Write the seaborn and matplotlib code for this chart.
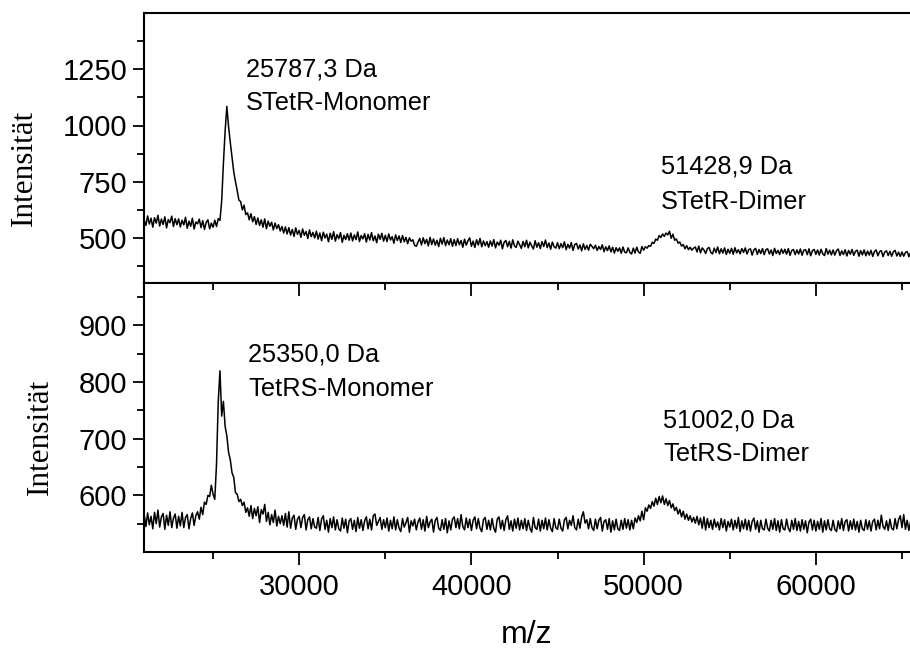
import numpy as np
import pandas as pd
import matplotlib
matplotlib.use("Agg")
import matplotlib.pyplot as plt
import seaborn as sns
from matplotlib.ticker import FixedLocator

# ---------------- data ----------------
mz_start = 21000
mz_step = 100

stetr_intensity = [
    580, 556, 598, 562, 588, 548, 590, 566, 601, 553, 584, 560, 594, 545, 582, 568, 597, 551, 586, 559,
    585, 549, 579, 558, 592, 543, 575, 552, 588, 540, 571, 563, 584, 546, 577, 538, 569, 581, 541, 566,
    548, 579, 551, 586, 578, 665, 830, 975, 1085, 995, 925, 860, 795, 750, 712, 668, 662, 625, 646, 604,
    612, 581, 608, 572, 595, 560, 589, 556, 581, 548, 585, 541, 575, 552, 570, 536, 566, 542, 559, 531,
    551, 522, 549, 518, 546, 513, 538, 507, 545, 516, 534, 503, 540, 512, 529, 498, 536, 506, 525, 500,
    530, 495, 522, 488, 526, 500, 517, 483, 521, 494, 528, 486, 515, 497, 524, 481, 512, 493, 519, 490,
    522, 487, 514, 493, 527, 484, 511, 496, 519, 482, 516, 491, 524, 488, 509, 479, 517, 494, 521, 486,
    512, 484, 518, 491, 506, 477, 514, 489, 509, 480, 511, 483, 503, 475, 501, 486, 492, 468, 463, 482,
    498, 469, 501, 475, 494, 465, 503, 471, 496, 468, 490, 462, 499, 473, 502, 466, 491, 470, 497, 463,
    493, 466, 497, 470, 489, 459, 495, 468, 488, 501, 463, 486, 458, 492, 469, 498, 461, 487, 466, 484,
    459, 487, 464, 493, 456, 482, 468, 490, 452, 481, 489, 461, 485, 455, 492, 465, 458, 486, 470, 454,
    485, 461, 490, 456, 481, 465, 451, 488, 459, 479, 453, 484, 462, 491, 457, 478, 450, 482, 461, 455,
    479, 452, 475, 457, 483, 448, 472, 455, 480, 445, 471, 476, 451, 469, 443, 474, 449, 467, 446, 472,
    463, 452, 468, 445, 462, 449, 470, 439, 461, 444, 465, 438, 459, 433, 457, 441, 456, 432, 460, 437,
    434, 456, 436, 429, 455, 433, 459, 438, 432, 462, 446, 461, 455, 466, 463, 481, 476, 495, 490, 511,
    502, 518, 507, 522, 514, 530, 499, 517, 490, 496, 477, 482, 464, 471, 452, 466, 448, 459, 446, 455,
    460, 438, 464, 434, 456, 447, 431, 453, 458, 436, 429, 455, 435, 460, 430, 452, 433, 456, 427, 450,
    432, 454, 428, 457, 434, 448, 430, 453, 436, 456, 429, 448, 452, 424, 447, 454, 427, 449, 431, 453,
    426, 448, 452, 429, 447, 422, 454, 431, 445, 427, 451, 432, 450, 428, 453, 423, 445, 449, 426, 447,
    429, 451, 423, 446, 448, 426, 452, 421, 444, 449, 427, 447, 424, 450, 430, 422, 453, 428, 446, 425,
    447, 424, 444, 451, 422, 443, 426, 448, 420, 445, 428, 449, 423, 441, 446, 419, 444, 425, 447, 421,
    442, 424, 445, 418, 440, 447, 421, 439, 444, 417, 438, 443, 422, 441, 419, 439, 445, 420, 437, 418,
    438, 419, 435, 440, 417, 436,
]

tetrs_intensity = [
    566, 545, 569, 548, 563, 541, 570, 550, 574, 544, 562, 568, 540, 565, 547, 571, 543, 560, 567, 542,
    563, 546, 570, 543, 561, 566, 541, 559, 569, 547, 564, 571, 558, 579, 566, 588, 584, 600, 598, 618,
    602, 593, 655, 765, 820, 740, 766, 722, 705, 676, 663, 640, 632, 605, 602, 589, 593, 582, 588, 570,
    578, 563, 582, 559, 577, 564, 580, 552, 575, 567, 584, 554, 570, 548, 566, 552, 574, 546, 563, 550,
    564, 547, 568, 544, 571, 542, 560, 565, 540, 558, 563, 543, 561, 566, 539, 557, 562, 541, 559, 544,
    542, 561, 538, 558, 564, 540, 556, 535, 559, 543, 562, 539, 557, 541, 537, 560, 542, 558, 534, 555,
    559, 540, 556, 536, 561, 542, 557, 538, 555, 562, 541, 558, 539, 564, 567, 547, 554, 561, 540, 557,
    543, 560, 537, 556, 541, 562, 539, 557, 542, 536, 559, 544, 552, 561, 535, 555, 546, 558, 539, 553,
    560, 540, 557, 537, 563, 543, 553, 558, 535, 556, 561, 542, 538, 557, 540, 559, 534, 555, 539, 558,
    562, 543, 559, 541, 566, 545, 539, 560, 543, 558, 538, 556, 562, 541, 559, 542, 536, 557, 561, 540,
    556, 539, 559, 542, 535, 558, 562, 541, 556, 538, 557, 564, 540, 555, 537, 558, 542, 560, 539, 556,
    541, 559, 538, 556, 542, 535, 561, 543, 540, 558, 537, 556, 541, 560, 539, 557, 542, 536, 559, 543,
    540, 558, 542, 537, 557, 561, 541, 556, 547, 564, 543, 539, 558, 542, 562, 571, 551, 557, 541, 559,
    543, 538, 558, 541, 556, 561, 537, 554, 557, 540, 559, 535, 555, 539, 558, 541, 538, 556, 540, 559,
    542, 557, 539, 556, 541, 560, 552, 564, 555, 572, 557, 578, 572, 583, 577, 589, 581, 595, 584, 598,
    587, 599, 584, 594, 582, 591, 578, 585, 573, 579, 567, 575, 562, 572, 558, 567, 556, 564, 553, 561,
    551, 563, 548, 560, 542, 562, 539, 559, 543, 556, 540, 558, 544, 553, 539, 559, 543, 557, 537, 554,
    544, 558, 539, 556, 542, 561, 536, 555, 541, 558, 539, 556, 537, 554, 560, 540, 555, 535, 556, 541,
    539, 558, 542, 537, 556, 540, 559, 538, 555, 535, 557, 541, 539, 558, 542, 536, 556, 540, 559, 538,
    554, 537, 557, 540, 555, 534, 553, 558, 539, 556, 537, 554, 540, 559, 535, 555, 539, 557, 541, 538,
    556, 540, 536, 555, 541, 559, 538, 554, 557, 537, 555, 540, 558, 539, 554, 535, 556, 541, 538, 557,
    540, 555, 537, 554, 558, 539, 556, 541, 565, 545, 540, 555, 538, 558, 542, 539, 559, 541, 557, 564,
    543, 566, 540, 556, 538, 554,
]

top_labels = [("25787,3 Da", 26912, 1218), ("STetR-Monomer", 26912, 1067),
              ("51428,9 Da", 50990, 786), ("STetR-Dimer", 50990, 630)]
bottom_labels = [("25350,0 Da", 27046, 836), ("TetRS-Monomer", 27046, 776),
                 ("51002,0 Da", 51151, 720), ("TetRS-Dimer", 51151, 660)]

top_yticks = [500, 750, 1000, 1250]
top_yminor = [375, 625, 875, 1125, 1375]
bottom_yticks = [600, 700, 800, 900]
bottom_yminor = [550, 650, 750, 850, 950]
xticks = [30000, 40000, 50000, 60000]
xminor = [25000, 35000, 45000, 55000, 65000]

# ---------------- frames ----------------
df_top = pd.DataFrame({"mz": mz_start + mz_step * np.arange(len(stetr_intensity)),
                       "I": stetr_intensity})
df_bot = pd.DataFrame({"mz": mz_start + mz_step * np.arange(len(tetrs_intensity)),
                       "I": tetrs_intensity})

sns.set_style("white")
plt.rcParams["font.family"] = ["Liberation Sans", "DejaVu Sans"]
for k in ("text.color", "axes.labelcolor", "xtick.color", "ytick.color", "axes.edgecolor"):
    plt.rcParams[k] = "black"

W, H = 910, 650
fig = plt.figure(figsize=(W / 100, H / 100), dpi=100)

def fx(px):
    return px / W

def fy(py):
    return 1 - py / H

ax1 = fig.add_axes([fx(144), fy(283), fx(910) - fx(144), fy(13) - fy(283)])
ax2 = fig.add_axes([fx(144), fy(552), fx(910) - fx(144), fy(283) - fy(552)])

sns.lineplot(data=df_top, x="mz", y="I", ax=ax1, color="black", linewidth=1.1)
sns.lineplot(data=df_bot, x="mz", y="I", ax=ax2, color="black", linewidth=1.1)

xlim = (20990, 65465)
for ax in (ax1, ax2):
    ax.set_xlim(*xlim)
    ax.spines["right"].set_visible(False)
    for s in ("left", "top", "bottom"):
        ax.spines[s].set_linewidth(1.5)
        ax.spines[s].set_color("black")
    ax.set_xlabel("")

ax1.set_ylim(300, 1500)
ax2.set_ylim(500, 975)

# top panel ticks
ax1.yaxis.set_major_locator(FixedLocator(top_yticks))
ax1.yaxis.set_minor_locator(FixedLocator(top_yminor))
ax1.set_xticks([])
ax1.tick_params(axis="y", which="major", direction="out", length=8, width=1.3,
                labelsize=21, pad=4, left=True)
ax1.tick_params(axis="y", which="minor", direction="out", length=5, width=1.3, left=True)

# bottom panel ticks
ax2.yaxis.set_major_locator(FixedLocator(bottom_yticks))
ax2.yaxis.set_minor_locator(FixedLocator(bottom_yminor))
ax2.xaxis.set_major_locator(FixedLocator(xticks))
ax2.xaxis.set_minor_locator(FixedLocator(xminor))
ax2.tick_params(axis="y", which="major", direction="out", length=8, width=1.3,
                labelsize=21, pad=4, left=True)
ax2.tick_params(axis="y", which="minor", direction="out", length=5, width=1.3, left=True)
ax2.tick_params(axis="x", which="major", direction="out", length=9, width=1.3,
                labelsize=21, pad=6, bottom=True, top=False)
ax2.tick_params(axis="x", which="minor", direction="out", length=5, width=1.3, bottom=True, top=False)
ax2.xaxis.set_ticklabels([f"{t}" for t in xticks])

# inward ticks on top of bottom panel
sec = ax2.secondary_xaxis("top")
sec.xaxis.set_major_locator(FixedLocator(xticks))
sec.xaxis.set_minor_locator(FixedLocator(xminor))
sec.tick_params(axis="x", which="major", direction="in", length=9, width=1.3, labeltop=False)
sec.tick_params(axis="x", which="minor", direction="in", length=5, width=1.3)
sec.spines["top"].set_visible(False)

ax2.set_xlabel("m/z", fontsize=23, labelpad=14)

serif = ["Liberation Serif", "DejaVu Serif"]
ax1.set_ylabel("Intensität", fontsize=22.5, family=serif)
ax2.set_ylabel("Intensität", fontsize=22.5, family=serif)
ax1.yaxis.label.set_va("center")
ax2.yaxis.label.set_va("center")
ax1.yaxis.set_label_coords((24 - 144) / 766, (283 - 168) / 270)
ax2.yaxis.set_label_coords((40 - 144) / 766, (552 - 437) / 269)

for t, x, y in top_labels:
    ax1.text(x, y, t, fontsize=18.3, ha="left", va="baseline", color="black")
for t, x, y in bottom_labels:
    ax2.text(x, y, t, fontsize=18.3, ha="left", va="baseline", color="black")

fig.savefig("out.png", dpi=100)
